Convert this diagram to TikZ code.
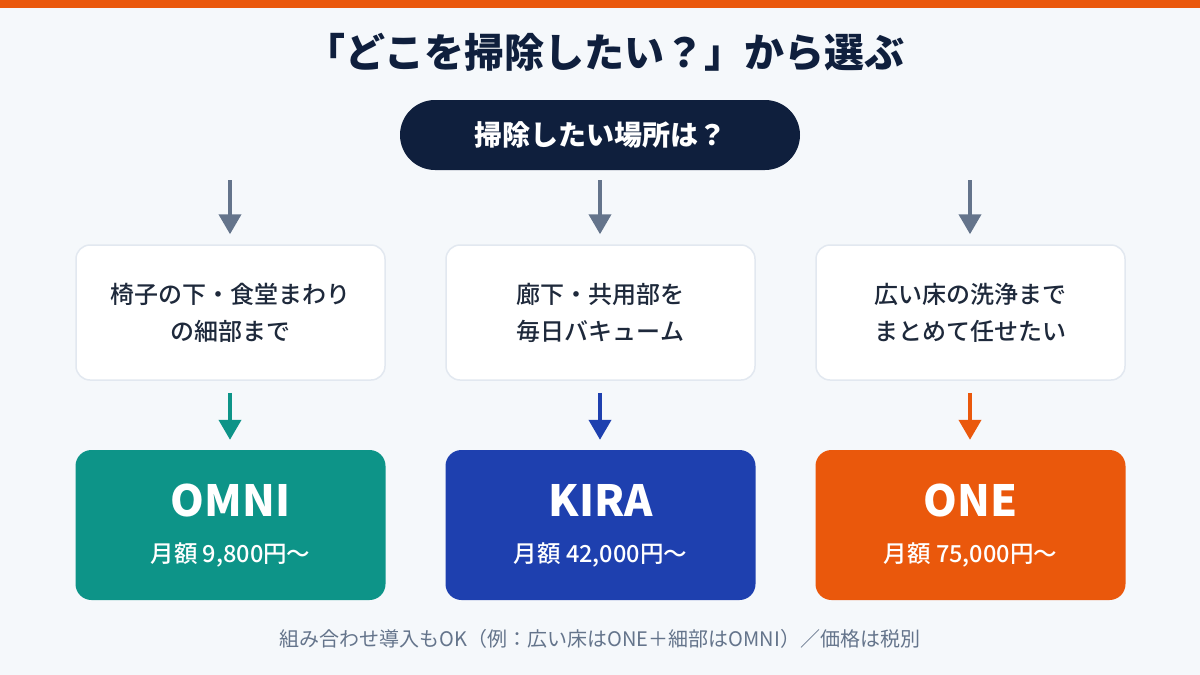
\documentclass[tikz,border=0pt]{standalone}
\usepackage{fontspec}
\setmainfont{Noto Sans CJK JP}
\newfontfamily\medfont{Noto Sans CJK JP Medium}
\usetikzlibrary{arrows.meta}
\definecolor{bg}{HTML}{F5F8FB}
\definecolor{navy}{HTML}{0F1F3D}
\definecolor{slate}{HTML}{64748B}
\definecolor{ink}{HTML}{1E293B}
\definecolor{edge}{HTML}{E2E8F0}
\definecolor{teal}{HTML}{0D9488}
\definecolor{blue}{HTML}{1E40AF}
\definecolor{orange}{HTML}{EA580C}
\tikzset{
  x=1pt,y=-1pt,
  qbox/.style={draw=edge,line width=1.5pt,fill=white,rounded corners=14pt,minimum width=309pt,minimum height=135pt,text=ink,align=center,font=\fontsize{24}{37}\selectfont\medfont,inner sep=0pt},
  pbox/.style={fill=#1,rounded corners=16pt,minimum width=310pt,minimum height=150pt,inner sep=0pt},
  pname/.style={text=white,font=\fontsize{43}{48}\selectfont\bfseries},
  pprice/.style={text=white,font=\fontsize{23.5}{28}\selectfont\medfont},
  garrow/.style={draw=slate,line width=4pt,-{Triangle[width=22pt,length=20pt]}},
  carrow/.style={draw=#1,line width=4pt,-{Triangle[width=22pt,length=20pt]}},
}
\begin{document}
\begin{tikzpicture}
\fill[bg] (0,0) rectangle (1200,675);
\useasboundingbox (0,0) rectangle (1200,675);
\fill[orange] (0,0) rectangle (1200,8);
\node[text=navy,font=\fontsize{40}{48}\selectfont\bfseries] (title) at (605,52) {「どこを掃除したい？」から選ぶ};
\node[fill=navy,rounded corners=35pt,minimum width=400pt,minimum height=70pt,inner sep=0pt,text=white,font=\fontsize{28}{32}\selectfont\bfseries] (q) at (600,135) {掃除したい場所は？};
% question boxes
\node[qbox] (b1) at (230.5,312.5) {椅子の下・食堂まわり\\の細部まで};
\node[qbox] (b2) at (600.5,312.5) {廊下・共用部を\\毎日バキューム};
\node[qbox] (b3) at (970.5,312.5) {広い床の洗浄まで\\まとめて任せたい};
\coordinate (s1) at (230,180);
\coordinate (s2) at (600,180);
\coordinate (s3) at (970,180);
\draw[garrow,shorten >=10pt] (s1) -- (b1.north -| s1);
\draw[garrow,shorten >=10pt] (s2) -- (b2.north -| s2);
\draw[garrow,shorten >=10pt] (s3) -- (b3.north -| s3);
% product boxes
\node[pbox=teal] (p1) at (230.5,525) {};
\node[pbox=blue] (p2) at (600.5,525) {};
\node[pbox=orange] (p3) at (970.5,525) {};
\node[pname] (n1) at (230.5,500) {OMNI};
\node[pname] (n2) at (600.5,500) {KIRA};
\node[pname] (n3) at (970.5,500) {ONE};
\node[pprice] (r1) at (230.5,555) {月額 9,800円〜};
\node[pprice] (r2) at (600.5,555) {月額 42,000円〜};
\node[pprice] (r3) at (970.5,555) {月額 75,000円〜};
\draw[carrow=teal,shorten <=12pt,shorten >=10pt] (b1.south -| s1) -- (p1.north -| s1);
\draw[carrow=blue,shorten <=12pt,shorten >=10pt] (b2.south -| s2) -- (p2.north -| s2);
\draw[carrow=orange,shorten <=12pt,shorten >=10pt] (b3.south -| s3) -- (p3.north -| s3);
\node[text=slate,font=\fontsize{20}{24}\selectfont] (foot) at (600,639) {組み合わせ導入もOK（例：広い床はONE＋細部はOMNI）／価格は税別};
\end{tikzpicture}
\end{document}
